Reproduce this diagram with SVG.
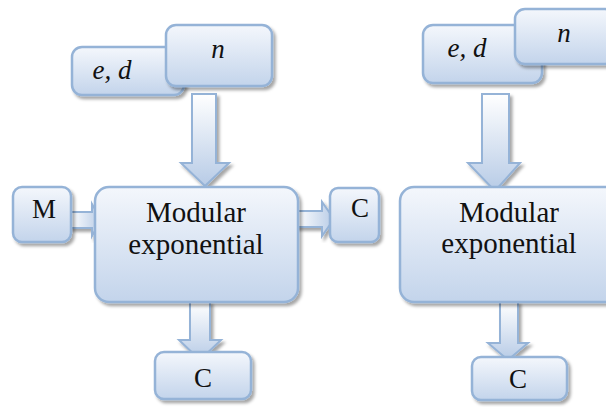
<svg xmlns="http://www.w3.org/2000/svg" width="606" height="407" viewBox="0 0 606 407">
<style>
.box{fill:url(#bg);stroke:#95b3d7;stroke-width:2.5;filter:url(#sh)}
.arr{fill:url(#ag);stroke:#95b3d7;stroke-width:2;stroke-linejoin:miter;filter:url(#sh)}
.arrh{fill:url(#agh);stroke:#95b3d7;stroke-width:2;stroke-linejoin:miter;filter:url(#sh)}
text{font-family:"Liberation Serif","Times New Roman",serif;font-size:27px;fill:#111;text-anchor:middle}
.it{font-style:italic}
.big{font-size:29px}
</style>
<defs>
<linearGradient id="bg" x1="0" y1="0" x2="0" y2="1">
<stop offset="0" stop-color="#f4f7fc"/>
<stop offset="1" stop-color="#c3d4eb"/>
</linearGradient>
<linearGradient id="ag" x1="0" y1="0" x2="0" y2="1">
<stop offset="0" stop-color="#ffffff"/>
<stop offset="1" stop-color="#b7cbe6"/>
</linearGradient>
<linearGradient id="agh" x1="0" y1="0" x2="1" y2="0">
<stop offset="0" stop-color="#ffffff"/>
<stop offset="1" stop-color="#b7cbe6"/>
</linearGradient>
<filter id="sh" x="-20%" y="-20%" width="140%" height="140%">
<feDropShadow dx="2.5" dy="3" stdDeviation="1.5" flood-color="#000" flood-opacity="0.35"/>
</filter>
</defs>
<g id="connectors">
<path class="arr" d="M192,94 H216 V163 H229 L205,186 L181,163 H192 Z"/>
<path class="arrh" d="M70,212 H92 V204 L101,220 L92,236 V228 H70 Z"/>
<path class="arrh" d="M296,211 H322 V202 L334,219 L322,236 V227 H296 Z"/>
<path class="arr" d="M190,302 H210 V340 H221 L200,360 L179,340 H190 Z"/>
<path class="arr" d="M482,94 H509 V163 H520 L495,191 L468,163 H482 Z"/>
<path class="arr" d="M500,302 H518 V343 H528 L508,360 L488,343 H500 Z"/>
</g>
<g id="ed1"><rect class="box" x="72" y="47" width="112" height="48" rx="10"/><text class="it" x="112" y="79">e, d</text></g>
<g id="n1"><rect class="box" x="166" y="25" width="106" height="61" rx="10"/><text class="it" x="218" y="58">n</text></g>
<g id="m1"><rect class="box" x="13" y="187" width="58" height="55" rx="9"/><text x="44" y="218">M</text></g>
<g id="main1"><rect class="box" x="95" y="187" width="203" height="115" rx="14"/><text class="big" x="196" y="222">Modular</text><text class="big" x="196" y="254">exponential</text></g>
<g id="c1"><rect class="box" x="330" y="188" width="49" height="54" rx="8"/><text x="360" y="217">C</text></g>
<g id="c2"><rect class="box" x="155" y="352" width="96" height="47" rx="9"/><text x="203" y="387">C</text></g>
<g id="ed2"><rect class="box" x="423" y="25" width="119" height="58" rx="10"/><text class="it" x="467" y="57">e, d</text></g>
<g id="n2"><rect class="box" x="515" y="9" width="100" height="55" rx="10"/><text class="it" x="564" y="42">n</text></g>
<g id="main2"><rect class="box" x="400" y="187" width="220" height="115" rx="14"/><text class="big" x="509" y="222">Modular</text><text class="big" x="509" y="253">exponential</text></g>
<g id="c3"><rect class="box" x="472" y="357" width="95" height="43" rx="9"/><text x="518" y="388">C</text></g>
</svg>
